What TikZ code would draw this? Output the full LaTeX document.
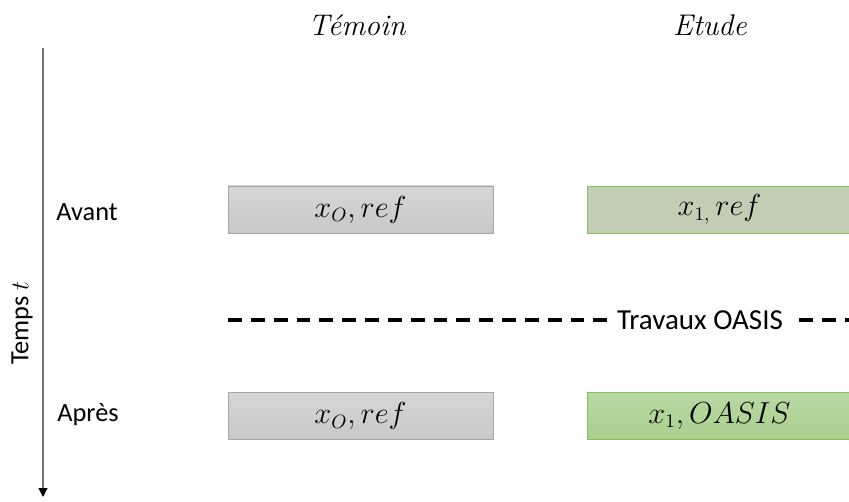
\documentclass[tikz,border=0pt]{standalone}
\usepackage{fontspec}
\setsansfont{Carlito}
\usetikzlibrary{arrows.meta}
\definecolor{boxgrey}{RGB}{200,200,200}
\definecolor{boxgreytop}{RGB}{214,214,214}
\definecolor{linegrey}{RGB}{165,165,165}
\definecolor{refgreen}{RGB}{193,206,180}
\definecolor{oasisgreen}{RGB}{170,208,142}
\definecolor{oasisgreentop}{RGB}{184,216,162}
\definecolor{edgegreen}{RGB}{130,194,98}
\tikzset{
	lbl/.style={font=\sffamily\fontsize{15}{18}\selectfont},
	hdr/.style={font=\itshape\fontsize{17}{20}\selectfont},
	cellbox/.style={minimum width=5.3cm, minimum height=0.94cm, inner sep=0pt, font=\fontsize{16}{19}\selectfont},
	temoinbox/.style={cellbox, draw=linegrey, top color=boxgreytop, bottom color=boxgrey},
	refbox/.style={cellbox, draw=edgegreen, fill=refgreen},
	oasisbox/.style={cellbox, draw=edgegreen, top color=oasisgreentop, bottom color=oasisgreen}
}
\begin{document}
\begin{tikzpicture}[x=0.02cm, y=-0.02cm]
			%%%%% START %%%%%
			
			\useasboundingbox (0, 0) rectangle (849, 502);
			
			\node[hdr] (temoin) at (357, 25) {Témoin};
			\node[hdr] (etude) at (710, 25) {Etude};
			
			\coordinate (ttop) at (43, 48);
			\coordinate (tbot) at (43, 497);
			\draw[line width=0.7pt, color=black!55, -{Triangle[length=5pt, width=5pt, color=black]}] (ttop) -- (tbot);
			\node[lbl, rotate=90] (temps) at (22, 323) {Temps $t$};
			
			\node[lbl] (avant) at (87, 212) {Avant};
			\node[lbl] (apres) at (88, 415) {Après};
			
			\node[temoinbox] (ref0av) at (360.5, 209.5) {$x_O, ref$};
			\node[refbox] (ref1av) at (719.5, 209.5) {$x_{1,}\,ref$};
			
			\coordinate (dl) at (228, 320);
			\coordinate (dr) at (849, 320);
			\draw[line width=2.2pt, dash pattern=on 7.9pt off 5.1pt] (dl) -- (dr);
			\node[lbl, font=\sffamily\fontsize{16.5}{19}\selectfont, fill=white, inner xsep=5pt] (travaux) at (700, 320) {Travaux OASIS};
			
			\node[temoinbox] (ref0ap) at (360.5, 416) {$x_O, ref$};
			\node[oasisbox] (oasis1) at (719.5, 416) {$x_1, OASIS$};
			
			%%%%% END %%%%%
\end{tikzpicture}
\end{document}
